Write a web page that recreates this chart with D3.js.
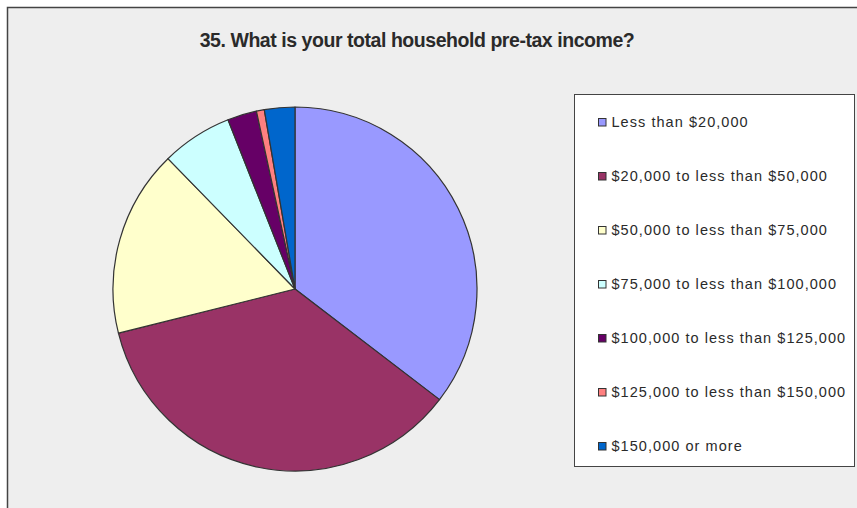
<!DOCTYPE html>
<html>
<head>
<meta charset="utf-8">
<script src="https://cdn.jsdelivr.net/npm/d3@7"></script>
<style>
  html, body { margin: 0; padding: 0; background: #ffffff; }
  svg { display: block; }
</style>
</head>
<body>
<svg id="chart" width="857" height="508"></svg>
<script>
// Survey question 35: household pre-tax income (share of respondents, %)
const categories = [
  "Less than $20,000",
  "$20,000 to less than $50,000",
  "$50,000 to less than $75,000",
  "$75,000 to less than $100,000",
  "$100,000 to less than $125,000",
  "$125,000 to less than $150,000",
  "$150,000 or more"
];
const shares = [35.4, 35.7, 16.6, 6.3, 2.6, 0.7, 2.7];
const sliceColors = ["#9999FF", "#993366", "#FFFFCC", "#CCFFFF", "#660066", "#FF8080", "#0066CC"];
const titleText = "35. What is your total household pre-tax income?";

const data = categories.map((c, i) => ({ label: c, value: shares[i] }));

const svg = d3.select("#chart");
const font = "'Liberation Sans', Arial, sans-serif";

// chart area with frame
svg.append("rect")
  .attr("x", 7.5).attr("y", 7.5)
  .attr("width", 870).attr("height", 520)
  .attr("fill", "#eeeeee")
  .attr("stroke", "#444444")
  .attr("stroke-width", 1.5);

// title
svg.append("text")
  .attr("x", 417).attr("y", 47)
  .attr("text-anchor", "middle")
  .attr("font-family", font)
  .attr("font-weight", "bold")
  .attr("font-size", 19.5)
  .attr("letter-spacing", -0.45)
  .attr("fill", "#2a2a2a")
  .text(titleText);

// pie
const color = d3.scaleOrdinal().domain(categories).range(sliceColors);
const pie = d3.pie().value(d => d.value).sort(null);
const arc = d3.arc().innerRadius(0).outerRadius(182);

const g = svg.append("g").attr("transform", "translate(295,289)");
g.selectAll("path")
  .data(pie(data))
  .join("path")
  .attr("d", arc)
  .attr("fill", d => color(d.data.label))
  .attr("stroke", "#333333")
  .attr("stroke-width", 1.2)
  .attr("stroke-linejoin", "round");

// legend
svg.append("rect")
  .attr("x", 574.5).attr("y", 94.5)
  .attr("width", 280).attr("height", 372)
  .attr("fill", "#ffffff")
  .attr("stroke", "#444444")
  .attr("stroke-width", 1);

const ly = d3.scalePoint().domain(categories).range([122, 446]);
const items = svg.append("g").selectAll("g")
  .data(categories)
  .join("g")
  .attr("transform", d => `translate(598,${ly(d)})`);

items.append("rect")
  .attr("x", 0.5).attr("y", -3.5)
  .attr("width", 7.5).attr("height", 7.5)
  .attr("fill", d => color(d))
  .attr("stroke", "#333333")
  .attr("stroke-width", 1);

items.append("text")
  .attr("x", 13.5).attr("y", 5)
  .attr("font-family", font)
  .attr("font-size", 14.5)
  .attr("letter-spacing", 1.05)
  .attr("fill", "#2a2a2a")
  .text(d => d);
</script>
</body>
</html>
